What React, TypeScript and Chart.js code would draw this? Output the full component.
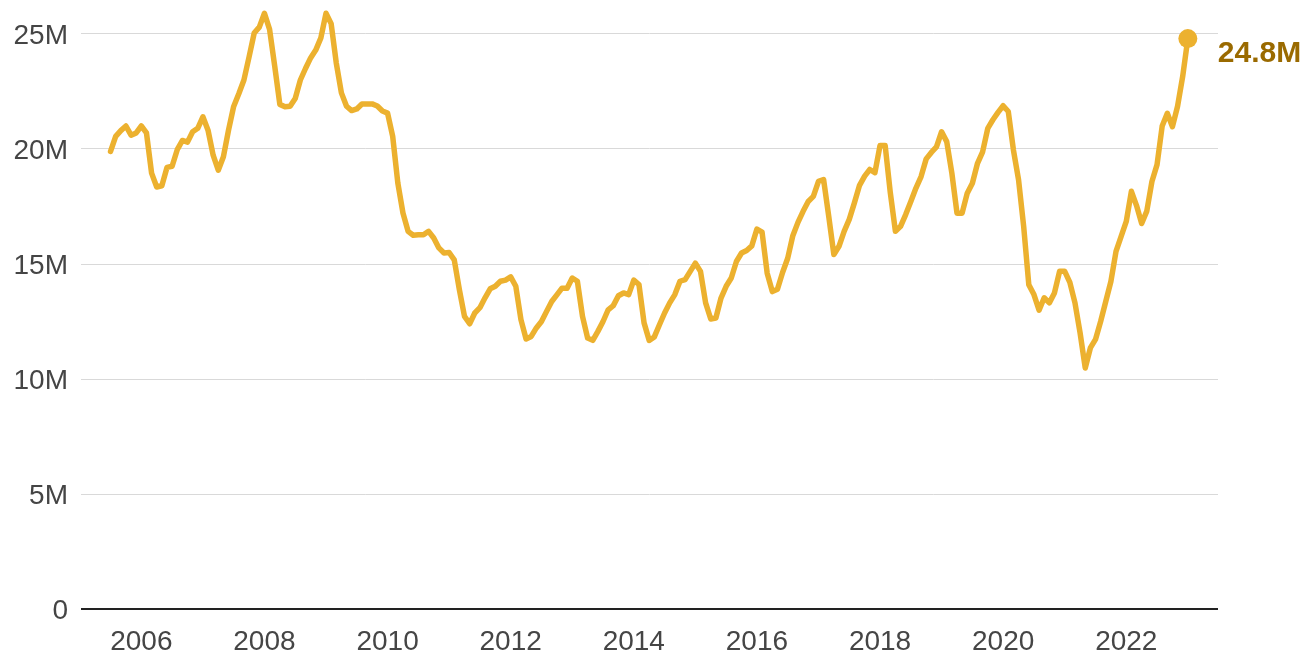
import React, { useEffect, useRef } from "react";
import { Chart, registerables } from "chart.js";

Chart.register(...registerables);

// Monthly series, starting July 2005 (values in millions)
const startYear = 2005;
const startMonth = 7;
const values: number[] = [
  19.9, 20.55, 20.8, 21.0, 20.6, 20.7, 21.0, 20.7, 18.95, 18.35,
  18.4, 19.2, 19.25, 19.97, 20.37, 20.3, 20.75, 20.9, 21.4, 20.82,
  19.73, 19.08, 19.66, 20.82, 21.85, 22.4, 23.0, 24.0, 25.04, 25.3,
  25.9, 25.2, 23.6, 21.94, 21.84, 21.86, 22.2, 23.0, 23.5, 23.96,
  24.3, 24.83, 25.9, 25.45, 23.74, 22.44, 21.86, 21.67, 21.74, 21.96,
  21.96, 21.96, 21.87, 21.65, 21.56, 20.55, 18.52, 17.22, 16.42, 16.25,
  16.27, 16.27, 16.42, 16.13, 15.7, 15.48, 15.5, 15.18, 13.88, 12.72,
  12.4, 12.87, 13.1, 13.53, 13.92, 14.03, 14.25, 14.3, 14.44, 14.03,
  12.58, 11.74, 11.85, 12.22, 12.5, 12.94, 13.37, 13.66, 13.95, 13.95,
  14.39, 14.25, 12.72, 11.78, 11.68, 12.07, 12.5, 13.01, 13.19, 13.62,
  13.74, 13.67, 14.3, 14.11, 12.44, 11.68, 11.83, 12.36, 12.87, 13.31,
  13.67, 14.25, 14.32, 14.68, 15.04, 14.68, 13.31, 12.61, 12.65, 13.52,
  14.03, 14.39, 15.11, 15.48, 15.59, 15.79, 16.52, 16.39, 14.6, 13.8,
  13.9, 14.63, 15.25, 16.23, 16.81, 17.29, 17.72, 17.94, 18.59, 18.67,
  17.07, 15.41, 15.77, 16.42, 16.94, 17.66, 18.42, 18.82, 19.11, 18.97,
  20.15, 20.15, 18.1, 16.42, 16.64, 17.15, 17.72, 18.3, 18.8, 19.57,
  19.85, 20.09, 20.75, 20.32, 18.95, 17.21, 17.21, 18.08, 18.51, 19.38,
  19.88, 20.9, 21.27, 21.59, 21.88, 21.63, 19.96, 18.66, 16.63, 14.1,
  13.67, 12.99, 13.53, 13.31, 13.74, 14.68, 14.68, 14.2, 13.31, 12.0,
  10.48, 11.35, 11.72, 12.5, 13.37, 14.24, 15.55, 16.2, 16.85, 18.16,
  17.54, 16.76, 17.3, 18.59, 19.32, 21.0, 21.55, 20.97, 21.86, 23.16,
  24.8,
];

const yTicks: number[] = [0, 5, 10, 15, 20, 25];
const xTicks: number[] = [2006, 2008, 2010, 2012, 2014, 2016, 2018, 2020, 2022];
const endLabel = "24.8M";

const LINE_COLOR = "#ecb12f";
const LABEL_COLOR = "#9a6a00";
const TEXT_COLOR = "#454545";
const FONT = "'Liberation Sans', Arial, sans-serif";

export default function App() {
  const ref = useRef<HTMLCanvasElement | null>(null);

  useEffect(() => {
    if (!ref.current) return;
    const points = values.map((v, i) => ({
      x: startYear + (startMonth - 1 + i) / 12,
      y: v,
    }));
    const last = points.length - 1;

    const endLabelPlugin = {
      id: "endLabel",
      afterDatasetsDraw(chart: any) {
        const meta = chart.getDatasetMeta(0);
        const pt = meta.data[last];
        if (!pt) return;
        const ctx = chart.ctx;
        ctx.save();
        ctx.font = `bold 30px ${FONT}`;
        ctx.fillStyle = LABEL_COLOR;
        ctx.textAlign = "left";
        ctx.textBaseline = "middle";
        ctx.fillText(endLabel, pt.x + 30, pt.y + 15);
        ctx.restore();
      },
    };

    const chart = new Chart(ref.current, {
      type: "line",
      data: {
        datasets: [
          {
            data: points,
            borderColor: LINE_COLOR,
            backgroundColor: LINE_COLOR,
            borderWidth: 5.5,
            borderJoinStyle: "round",
            borderCapStyle: "round",
            tension: 0,
            pointRadius: (c: any) => (c.dataIndex === last ? 9.5 : 0),
            pointHoverRadius: 0,
            pointBorderWidth: 0,
            pointBackgroundColor: LINE_COLOR,
            clip: false as any,
          },
        ],
      },
      options: {
        responsive: false,
        animation: false,
        devicePixelRatio: 1,
        layout: { padding: { top: 11, right: 91, left: 0, bottom: 0 } },
        plugins: {
          legend: { display: false },
          tooltip: { enabled: false },
        },
        scales: {
          x: {
            type: "linear",
            min: 2005.02,
            max: 2023.49,
            afterBuildTicks: (s: any) => {
              s.ticks = xTicks.map((v) => ({ value: v }));
            },
            afterFit: (s: any) => {
              s.height = 42;
              s.paddingLeft = 0;
              s.paddingRight = 0;
            },
            grid: { display: false, drawTicks: false },
            border: { display: false },
            ticks: {
              autoSkip: false,
              maxRotation: 0,
              padding: 16,
              color: TEXT_COLOR,
              font: { family: FONT, size: 28 },
              callback: (v: any) => String(v),
            },
          },
          y: {
            type: "linear",
            min: 0,
            max: 26,
            afterBuildTicks: (s: any) => {
              s.ticks = yTicks.map((v) => ({ value: v }));
            },
            afterFit: (s: any) => {
              s.width = 81;
              s.paddingTop = 0;
              s.paddingBottom = 0;
            },
            grid: {
              drawTicks: false,
              color: (c: any) => (c.tick && c.tick.value === 0 ? "#222222" : "#d9d9d9"),
              lineWidth: (c: any) => (c.tick && c.tick.value === 0 ? 2 : 1),
            },
            border: { display: false },
            ticks: {
              padding: 13,
              labelOffset: 2,
              color: TEXT_COLOR,
              font: { family: FONT, size: 28 },
              callback: (v: any) => (v === 0 ? "0" : `${v}M`),
            },
          },
        },
      },
      plugins: [endLabelPlugin],
    });

    return () => chart.destroy();
  }, []);

  return (
    <div style={{ position: "fixed", left: 0, top: 0, width: 1309, height: 651, background: "#fff" }}>
      <canvas ref={ref} width={1309} height={651} style={{ display: "block" }} />
    </div>
  );
}
